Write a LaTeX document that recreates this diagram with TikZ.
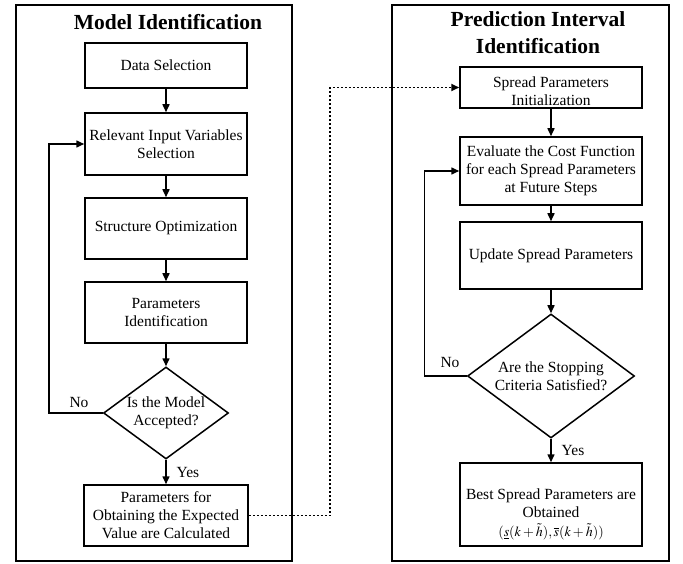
\documentclass[tikz,border=0pt]{standalone}
\usepackage{mathptmx}
\usepackage{fontspec}
\setmainfont{Liberation Serif}
\usetikzlibrary{shapes.geometric,arrows.meta}
\begin{document}
\begin{tikzpicture}[x=1pt,y=-1pt,
  box/.style={draw, line width=1.5pt, align=center, inner sep=2pt,
    font=\fontsize{15.5}{18}\selectfont},
  panel/.style={draw, line width=1.5pt, inner sep=0pt},
  dia/.style={draw, diamond, line width=1.5pt, inner sep=0pt},
  txt/.style={align=center, font=\fontsize{15.5}{18}\selectfont},
  ttl/.style={align=center, font=\fontsize{21.5}{27}\selectfont\bfseries},
  arr/.style={line width=1.5pt, -{Triangle[length=8pt,width=7pt]}},
  dotarr/.style={line width=1.8pt, dash pattern=on 2pt off 2pt, -{Triangle[length=8pt,width=7pt]}}
]
\useasboundingbox (0,0) rectangle (683,564);
% panels
\node[panel, minimum width=276pt, minimum height=556pt] (lp) at (154,283) {};
\node[panel, minimum width=277pt, minimum height=556pt] (rp) at (530.5,283) {};
\node[ttl] (lt) at (168,22) {Model Identification};
\node[ttl] (rt) at (538,33) {Prediction Interval\\Identification};
% left column
\node[box, minimum width=162pt, minimum height=45pt] (ds) at (166,65.5) {Data Selection};
\node[box, minimum width=162pt, minimum height=62pt] (riv) at (166,144) {Relevant Input Variables\\Selection};
\node[box, minimum width=162pt, minimum height=61pt] (so) at (166,228.5) {Structure Optimization};
\node[box, minimum width=162pt, minimum height=61pt] (pi) at (166,312.5) {Parameters\\Identification};
\node[dia, minimum width=125pt, minimum height=92pt] (d1) at (166,413) {};
\node[txt] (d1t) at (166,413) {Is the Model\\Accepted?};
\node[box, minimum width=164pt, minimum height=61pt] (pf) at (166,515.5) {Parameters for\\Obtaining the Expected\\Value are Calculated};
% right column
\node[box, minimum width=182pt, minimum height=41pt] (spi) at (551,87.5) {};
\node[txt] (spit) at (551,91.5) {Spread Parameters\\Initialization};
\node[box, minimum width=182pt, minimum height=68pt] (ecf) at (551,171) {Evaluate the Cost Function\\for each Spread Parameters\\at Future Steps};
\node[box, minimum width=182pt, minimum height=67pt] (usp) at (551,255.5) {Update Spread Parameters};
\node[dia, minimum width=167pt, minimum height=124pt] (d2) at (551,376) {};
\node[txt] (d2t) at (551,376) {Are the Stopping\\Criteria Satisfied?};
\node[box, minimum width=182pt, minimum height=83pt] (bsp) at (551,504.5) {};
\node[txt] (bspt) at (551,514) {Best Spread Parameters are\\Obtained\\[1pt]{\fontsize{14}{18}\selectfont$(\underline{s}(k+\tilde{h}),\overline{s}(k+\tilde{h}))$}};
% labels
\node[txt] (no1) at (79,402) {No};
\node[txt] (yes1) at (188,472) {Yes};
\node[txt] (no2) at (450,363) {No};
\node[txt] (yes2) at (573,450) {Yes};
% connectors
\draw[arr] (ds) -- (riv);
\draw[arr] (riv) -- (so);
\draw[arr] (so) -- (pi);
\draw[arr] (pi) -- (d1);
\draw[arr] (d1) -- (pf);
\draw[arr] (d1.west) -- ++(-54,0) |- (riv.west);
\draw[arr] (spi) -- (ecf);
\draw[arr] (ecf) -- (usp);
\draw[arr] (usp) -- (d2);
\draw[arr] (d2) -- (bsp);
\draw[arr] (d2.west) -- ++(-42.5,0) |- (ecf.west);
\coordinate (dt) at (330,515.5);
\draw[dotarr] (pf.east) -- (dt) |- (spi.west);
\end{tikzpicture}
\end{document}
